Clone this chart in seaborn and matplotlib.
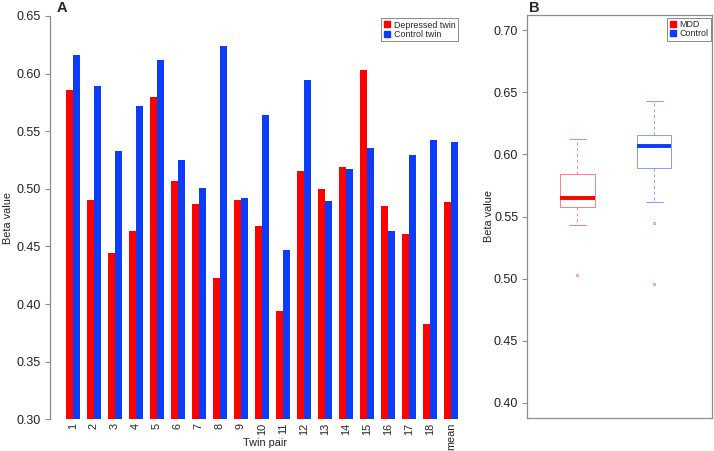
import numpy as np
import pandas as pd
import matplotlib
matplotlib.use("Agg")
import matplotlib.pyplot as plt
from matplotlib.lines import Line2D
import seaborn as sns

# ---------------- data ----------------
pairs = [str(i) for i in range(1, 19)] + ["mean"]
depressed = [0.586, 0.490, 0.444, 0.463, 0.580, 0.507, 0.4865, 0.4225, 0.490,
             0.468, 0.394, 0.5155, 0.4995, 0.519, 0.603, 0.485, 0.461, 0.383, 0.489]
control = [0.616, 0.5896, 0.533, 0.5716, 0.612, 0.525, 0.501, 0.6243, 0.4917,
           0.5644, 0.4468, 0.5945, 0.4897, 0.5175, 0.5355, 0.463, 0.529, 0.542, 0.541]
bar_groups = ["Depressed twin", "Control twin"]

box_groups = ["MDD", "Control"]
mdd_values = [0.5027, 0.5432, 0.550, 0.555, 0.558, 0.558, 0.561, 0.563, 0.5645,
              0.5645, 0.570, 0.578, 0.5846, 0.5846, 0.590, 0.597, 0.605, 0.6128]
ctrl_values = [0.4954, 0.5451, 0.5615, 0.575, 0.5894, 0.5894, 0.596, 0.602, 0.6068,
               0.6068, 0.609, 0.612, 0.616, 0.616, 0.622, 0.628, 0.635, 0.6426]

a_ticks = [0.30, 0.35, 0.40, 0.45, 0.50, 0.55, 0.60, 0.65]
b_ticks = [0.40, 0.45, 0.50, 0.55, 0.60, 0.65, 0.70]

RED = "#FF0000"
BLUE = "#0B3CF8"
GREY = "#8c8c8c"

sns.set_theme(style="white")
plt.rcParams["font.family"] = ["Liberation Sans", "DejaVu Sans"]

W, H = 714, 451
fig = plt.figure(figsize=(W / 100, H / 100), dpi=100)

def fbox(l, t, r, b):
    return [l / W, 1 - b / H, (r - l) / W, (b - t) / H]

# ---------------- panel A ----------------
axA = fig.add_axes(fbox(50, 16, 473.5, 419.3))
dfA = pd.DataFrame({
    "pair": pairs * 2,
    "group": [bar_groups[0]] * len(pairs) + [bar_groups[1]] * len(pairs),
    "value": depressed + control,
})
sns.barplot(data=dfA, x="pair", y="value", hue="group", order=pairs,
            hue_order=bar_groups, palette=[RED, BLUE], saturation=1,
            width=2 / 3, gap=0, linewidth=0, errorbar=None, legend=False, ax=axA)
axA.set_xlim(-1.08, 19.08)
axA.set_ylim(0.30, 0.65)
axA.set_yticks(a_ticks)
axA.set_yticklabels([f"{t:.2f}" for t in a_ticks], fontsize=9, color="#222222")
axA.tick_params(axis="y", length=3.6, width=0.8, color=GREY, pad=3, left=True)
axA.tick_params(axis="x", length=0, pad=2.5, labelsize=7.8, labelrotation=90,
                labelcolor="#222222")
for lab in axA.get_xticklabels():
    lab.set_va("top")
    lab.set_ha("center")
for s in ["top", "right", "bottom"]:
    axA.spines[s].set_visible(False)
axA.spines["left"].set_color(GREY)
axA.spines["left"].set_linewidth(0.9)
axA.set_xlabel("Twin pair", fontsize=7.8, color="#222222")
axA.xaxis.set_label_coords((265 - 50) / 423.5, -(443 - 419.3) / 403.3)
axA.xaxis.label.set_va("center")
axA.set_ylabel("Beta value", fontsize=7.8, color="#222222")
axA.yaxis.set_label_coords(-(50 - 13) / 423.5, 0.5)
axA.patch.set_alpha(0)

handlesA = [Line2D([], [], marker="s", linestyle="none", markersize=4.5,
                   markerfacecolor=c, markeredgecolor=c) for c in (RED, BLUE)]
legA = axA.legend(handlesA, bar_groups, loc="upper right",
                  bbox_to_anchor=(457.5 / W, 1 - 18.3 / H),
                  bbox_transform=fig.transFigure, fontsize=6.4, frameon=True,
                  fancybox=False, borderpad=0.25, labelspacing=0.05,
                  handletextpad=0.3, handlelength=0.9, borderaxespad=0)
legA.get_frame().set_edgecolor("#555555")
legA.get_frame().set_linewidth(0.6)

# ---------------- panel B ----------------
axB = fig.add_axes(fbox(527.3, 15.3, 712.3, 417.7))
dfB = pd.DataFrame({
    "group": [box_groups[0]] * len(mdd_values) + [box_groups[1]] * len(ctrl_values),
    "value": mdd_values + ctrl_values,
})
sns.boxplot(data=dfB, x="group", y="value", hue="group", order=box_groups,
            hue_order=box_groups, palette=[RED, BLUE], fill=False, width=0.45,
            linewidth=0.7, whis=1.5, legend=False, ax=axB,
            boxprops={"alpha": 0.5},
            medianprops={"linewidth": 2.8, "alpha": 1},
            whiskerprops={"linestyle": (0, (3, 3)), "linewidth": 0.7, "alpha": 0.5},
            capprops={"linewidth": 0.7, "alpha": 0.5},
            flierprops={"marker": "o", "markersize": 1.6, "markeredgewidth": 0.6,
                        "alpha": 0.5})
axB.set_xlim(-0.648, 1.755)
axB.set_ylim(0.388, 0.712)
axB.set_yticks(b_ticks)
axB.set_yticklabels([f"{t:.2f}" for t in b_ticks], fontsize=9, color="#222222")
axB.set_xticks([])
axB.set_xlabel("")
axB.tick_params(axis="y", length=3.6, width=0.8, color=GREY, pad=3, left=True)
for s in axB.spines.values():
    s.set_visible(True)
    s.set_color(GREY)
    s.set_linewidth(0.9)
axB.set_ylabel("Beta value", fontsize=7.8, color="#222222")
axB.yaxis.set_label_coords(-(527.3 - 494) / 185, 0.5)

handlesB = [Line2D([], [], marker="s", linestyle="none", markersize=4.5,
                   markerfacecolor=c, markeredgecolor=c) for c in (RED, BLUE)]
legB = axB.legend(handlesB, box_groups, loc="upper right",
                  bbox_to_anchor=(710.7 / W, 1 - 17.7 / H),
                  bbox_transform=fig.transFigure, fontsize=6.4, frameon=True,
                  fancybox=False, borderpad=0.25, labelspacing=0.05,
                  handletextpad=0.3, handlelength=0.9, borderaxespad=0)
legB.get_frame().set_edgecolor("#555555")
legB.get_frame().set_linewidth(0.6)

# panel letters
fig.text(56.5 / W, 1 - 1.5 / H, "A", fontsize=10.5, fontweight="bold", ha="left", va="top")
fig.text(528.5 / W, 1 - 1.5 / H, "B", fontsize=10.5, fontweight="bold", ha="left", va="top")

fig.savefig("out.png", dpi=100)
